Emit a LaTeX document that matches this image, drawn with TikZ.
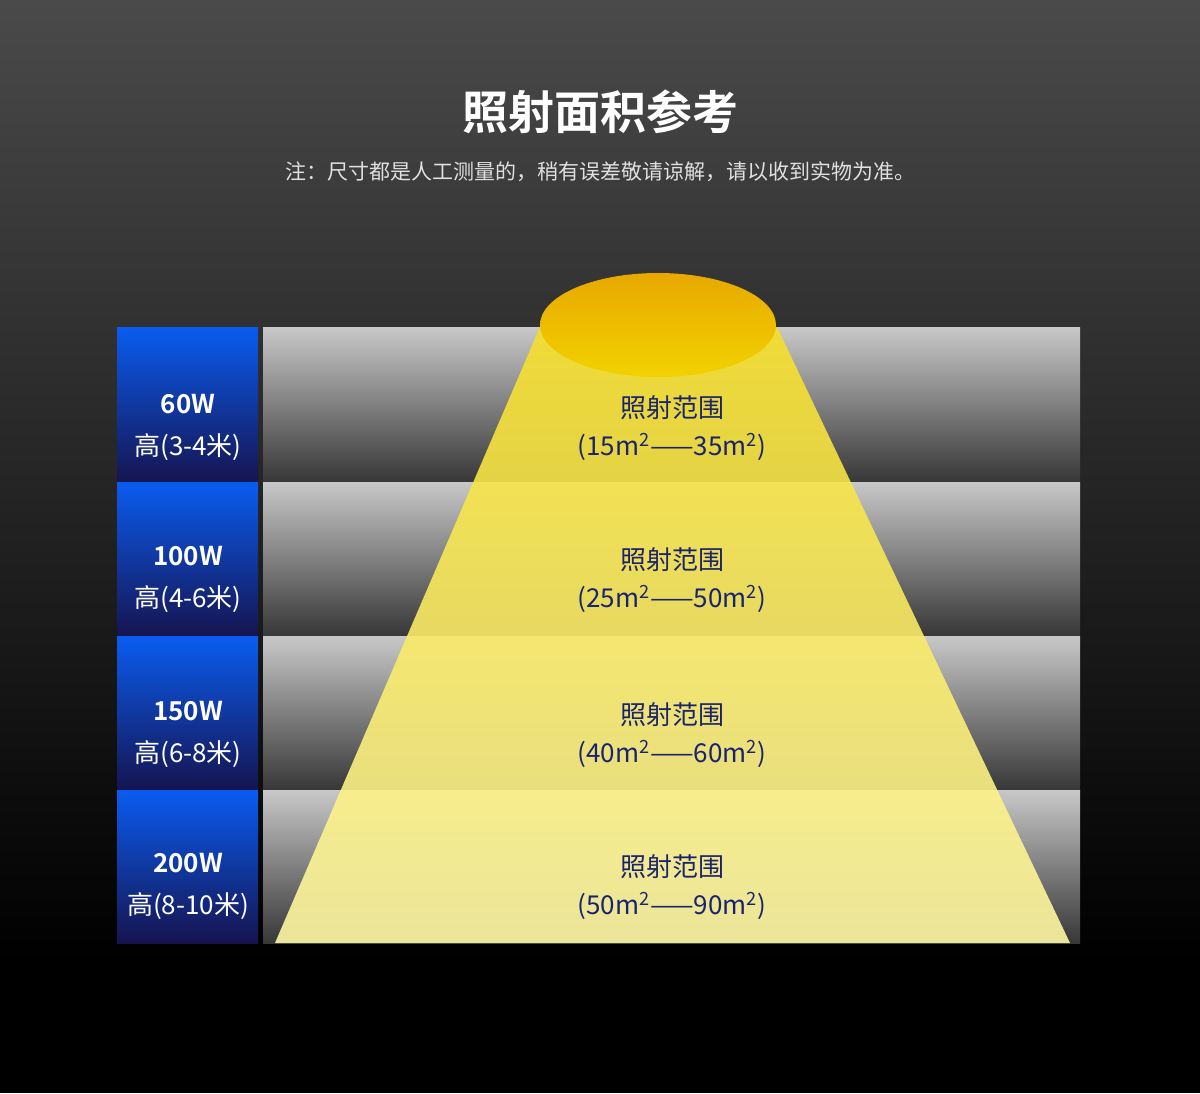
\documentclass[tikz,border=0pt]{standalone}
\usepackage{fontspec}
\setmainfont{Noto Sans CJK SC}[BoldFont={Noto Sans CJK SC Bold}]
\definecolor{bgtop}{RGB}{74,74,74}
\definecolor{bluetop}{RGB}{10,92,240}
\definecolor{bluebot}{RGB}{22,20,80}
\definecolor{grtop}{RGB}{200,200,200}
\definecolor{grbot}{RGB}{55,55,55}
\definecolor{navy}{RGB}{26,36,110}
\definecolor{ytop}{RGB}{245,222,40}
\definecolor{ybot}{RGB}{255,248,165}
\definecolor{otop}{RGB}{232,168,0}
\definecolor{obot}{RGB}{242,210,0}
\tikzset{
 wl/.style={text=white,font=\bfseries\fontsize{13}{15}\selectfont},
 hl/.style={text=white,font=\fontsize{13}{15}\selectfont},
 cl/.style={text=navy,font=\fontsize{13}{15}\selectfont},
}
\begin{document}
\begin{tikzpicture}[x=0.5pt,y=-0.5pt]
\useasboundingbox (0,0) rectangle (1200,1093);
\shade[top color=bgtop,bottom color=black] (0,0) rectangle (1200,960);
\fill[black] (0,959) rectangle (1200,1093);
\node[text=white,font=\bfseries\fontsize{23}{27}\selectfont] (title) at (600,112) {照射面积参考};
\node[text=white!88!black,font=\fontsize{10.5}{13}\selectfont] (sub) at (600,172) {注：尺寸都是人工测量的，稍有误差敬请谅解，请以收到实物为准。};
\foreach \t/\b in {327/482,482/636,636/790,790/943}{
 \shade[top color=bluetop,bottom color=bluebot] (117,\t) rectangle (258,\b);
 \shade[top color=grtop,bottom color=grbot] (263,\t) rectangle (1080,\b);
}
\shade[top color=ytop,bottom color=ybot,opacity=0.9] (540,327) -- (777,327) -- (1070,943) -- (275,943) -- cycle;
\shade[top color=otop,bottom color=obot] (658,325) ellipse [x radius=118,y radius=52];
\foreach \i/\w/\h/\c/\ya in {1/60W/3-4/15m\textsuperscript{2}——35m\textsuperscript{2}/0,
 2/100W/4-6/25m\textsuperscript{2}——50m\textsuperscript{2}/152,
 3/150W/6-8/40m\textsuperscript{2}——60m\textsuperscript{2}/307,
 4/200W/8-10/50m\textsuperscript{2}——90m\textsuperscript{2}/459}{
 \node[wl] (w\i) at (188,404+\ya) {\w};
 \node[hl] (h\i) at (188,447+\ya) {高(\h 米)};
 \node[cl] (c\i) at (672,408+\ya) {照射范围};
 \node[cl] (r\i) at (672,447+\ya) {(\c)};
}
\end{tikzpicture}
\end{document}
